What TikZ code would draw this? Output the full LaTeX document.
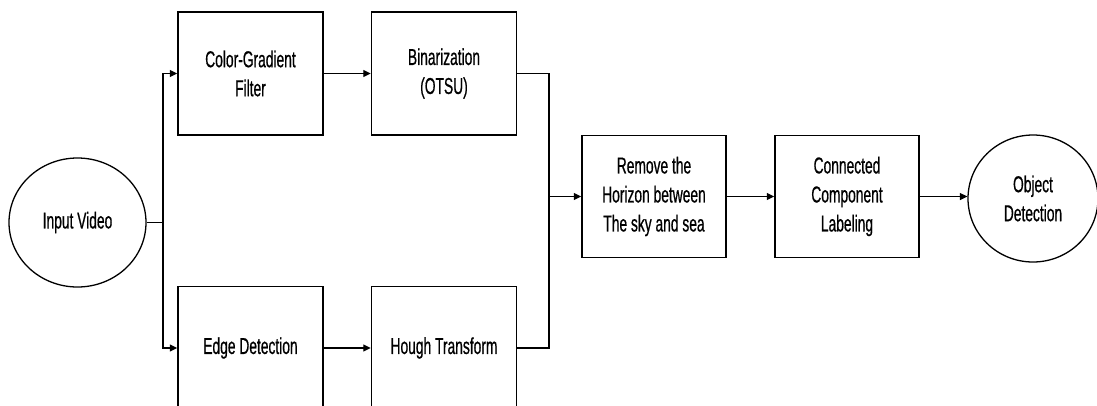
\documentclass[tikz,border=0pt]{standalone}
\usepackage{fontspec}
\setmainfont{Liberation Sans}[FakeStretch=0.6,FakeBold=0.6]
\usetikzlibrary{arrows.meta,shapes.geometric}
\begin{document}
\begin{tikzpicture}[x=1pt,y=-1pt,
  lbl/.style={font=\fontsize{23}{29}\selectfont, align=center, text=black},
  stepbox/.style={lbl, draw=black, line width=1.5pt, rectangle, inner sep=0pt,
    minimum width=145pt, minimum height=123pt},
  term/.style={lbl, draw=black, line width=1.3pt, ellipse, inner sep=0pt},
  conn/.style={draw=black, line width=1.3pt},
  arr/.style={conn, -{Triangle[length=7.5pt,width=7pt]}}]
\path[use as bounding box, clip] (0,0) rectangle (1097,405);
\fill[white] (0,0) rectangle (1097,405);

\node[term, minimum width=137pt, minimum height=129pt] (in) at (77.5,222.5) {Input Video};
\node[stepbox] (cg) at (250.5,73.5) {Color-Gradient\\Filter};
\node[stepbox] (bin) at (444,73.5) {Binarization\\(OTSU)};
\node[stepbox] (ed) at (250.5,348) {Edge Detection};
\node[stepbox] (ho) at (444,348) {Hough Transform};
\node[stepbox, minimum width=144pt, minimum height=122pt] (rm) at (654,196.5) {Remove the\\Horizon between\\The sky and sea};
\node[stepbox, minimum width=144pt, minimum height=122pt] (cc) at (847,196.5) {Connected\\Component\\Labeling};
\node[term, minimum width=130pt, minimum height=127pt] (od) at (1033,198.5) {Object\\Detection};

\coordinate (s1) at (163,222.5);
\coordinate (m1) at (549,196.5);

\draw[conn] (in.east) -- (s1);
\draw[arr] (s1) |- (cg.west);
\draw[arr] (s1) |- (ed.west);
\draw[arr] (cg.east) -- (bin.west);
\draw[arr] (ed.east) -- (ho.west);
\draw[conn] (bin.east) -| (m1);
\draw[conn] (ho.east) -| (m1);
\draw[arr] (m1) -- (rm.west);
\draw[arr] (rm.east) -- (cc.west);
\draw[arr] (cc.east) -- (od.west |- cc.east);
\end{tikzpicture}
\end{document}
